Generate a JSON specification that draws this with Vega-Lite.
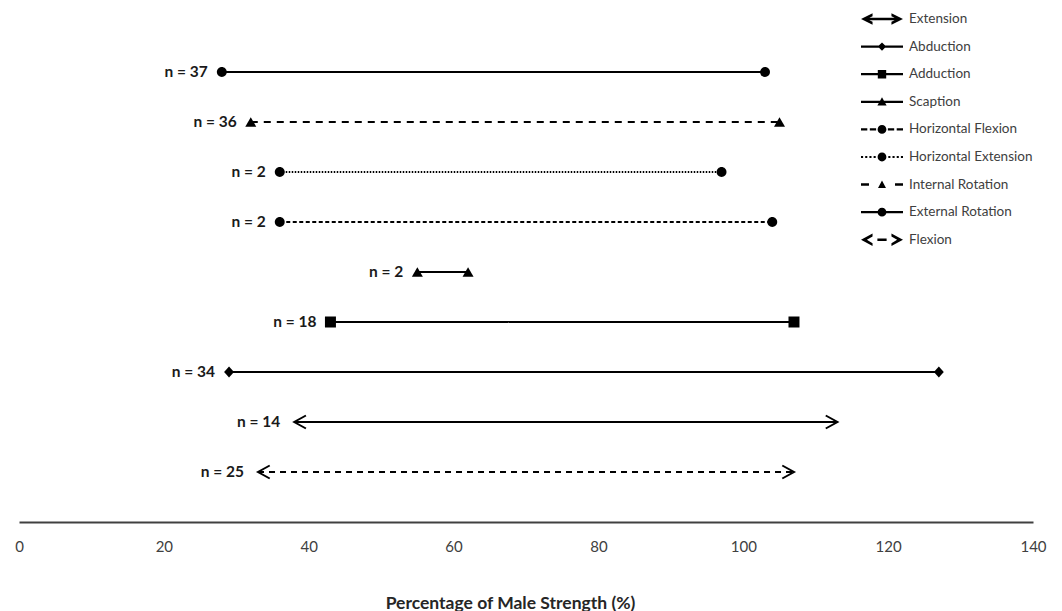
{
  "$schema": "https://vega.github.io/schema/vega-lite/v6.json",
  "width": 1014,
  "height": 500,
  "autosize": {"type": "none"},
  "padding": {"left": 19, "top": 22, "right": 29, "bottom": 89},
  "background": "white",
  "config": {"view": {"stroke": null}},
  "data": {
    "values": [
      {"movement": "External Rotation", "label": "n = 37", "lo": 28, "hi": 103},
      {"movement": "Internal Rotation", "label": "n = 36", "lo": 32, "hi": 105},
      {"movement": "Horizontal Extension", "label": "n = 2", "lo": 36, "hi": 97},
      {"movement": "Horizontal Flexion", "label": "n = 2", "lo": 36, "hi": 104},
      {"movement": "Scaption", "label": "n = 2", "lo": 55, "hi": 62},
      {"movement": "Adduction", "label": "n = 18", "lo": 43, "hi": 107},
      {"movement": "Abduction", "label": "n = 34", "lo": 29, "hi": 127},
      {"movement": "Extension", "label": "n = 14", "lo": 38, "hi": 113},
      {"movement": "Flexion", "label": "n = 25", "lo": 33, "hi": 107}
    ]
  },
  "resolve": {"scale": {"shape": "independent"}, "legend": {"shape": "independent"}},
  "layer": [
    {
      "mark": {"type": "rule", "color": "black", "strokeWidth": 2, "strokeCap": "butt"},
      "encoding": {
        "x": {
          "field": "lo", "type": "quantitative",
          "scale": {"domain": [0, 140], "nice": false, "zero": false},
          "axis": {
            "values": [0, 20, 40, 60, 80, 100, 120, 140],
            "domain": true, "domainColor": "#404040", "domainWidth": 2,
            "ticks": false, "tickSize": 0, "grid": false,
            "labelFlush": false,
            "labelFont": "Lato", "labelFontSize": 15, "labelColor": "#404040", "labelPadding": 17,
            "title": "Percentage of Male Strength (%)",
            "titleFont": "Lato", "titleFontSize": 17.5, "titleFontWeight": "bold", "titleColor": "#262626",
            "titlePadding": 40,
            "titleX": 491
          }
        },
        "x2": {"field": "hi"},
        "y": {
          "field": "movement", "type": "nominal",
          "scale": {
            "domain": ["External Rotation", "Internal Rotation", "Horizontal Extension", "Horizontal Flexion", "Scaption", "Adduction", "Abduction", "Extension", "Flexion"],
            "padding": 1
          },
          "axis": null
        },
        "strokeDash": {
          "field": "movement", "type": "nominal",
          "scale": {
            "domain": ["External Rotation", "Internal Rotation", "Horizontal Extension", "Horizontal Flexion", "Scaption", "Adduction", "Abduction", "Extension", "Flexion"],
            "range": [[1, 0], [7, 6], [1.5, 1.5], [4, 2.5], [1, 0], [1, 0], [1, 0], [1, 0], [6, 5]]
          },
          "legend": null
        }
      }
    },
    {
      "transform": [
        {"filter": {"not": {"field": "movement", "oneOf": ["Extension", "Flexion"]}}},
        {"fold": ["lo", "hi"], "as": ["end", "value"]}
      ],
      "mark": {"type": "point", "filled": true, "color": "black", "opacity": 1, "size": 121},
      "encoding": {
        "x": {"field": "value", "type": "quantitative"},
        "y": {"field": "movement", "type": "nominal"},
        "shape": {
          "field": "movement", "type": "nominal",
          "scale": {
            "domain": ["External Rotation", "Internal Rotation", "Horizontal Extension", "Horizontal Flexion", "Scaption", "Adduction", "Abduction"],
            "range": [
              "M-0.9,0A0.9,0.9,0,1,1,0.9,0A0.9,0.9,0,1,1,-0.9,0Z",
              "triangle-up",
              "M-0.9,0A0.9,0.9,0,1,1,0.9,0A0.9,0.9,0,1,1,-0.9,0Z",
              "M-0.9,0A0.9,0.9,0,1,1,0.9,0A0.9,0.9,0,1,1,-0.9,0Z",
              "triangle-up",
              "square",
              "M-0.9,0L0,-1L0.9,0L0,1Z"
            ]
          },
          "legend": null
        }
      }
    },
    {
      "transform": [
        {"filter": {"field": "movement", "oneOf": ["Extension", "Flexion"]}},
        {"fold": ["lo", "hi"], "as": ["end", "value"]}
      ],
      "mark": {"type": "point", "filled": false, "stroke": "black", "strokeWidth": 2, "opacity": 1, "size": 169, "strokeJoin": "miter"},
      "encoding": {
        "x": {"field": "value", "type": "quantitative"},
        "y": {"field": "movement", "type": "nominal"},
        "shape": {
          "field": "end", "type": "nominal",
          "scale": {"domain": ["lo", "hi"], "range": ["M1.8,-1L0,0L1.8,1", "M-1.8,-1L0,0L-1.8,1"]},
          "legend": null
        }
      }
    },
    {
      "mark": {"type": "text", "align": "right", "baseline": "middle", "dx": -14, "font": "Lato", "fontSize": 15.5, "fontWeight": "bold", "color": "#1a1a1a"},
      "encoding": {
        "x": {"field": "lo", "type": "quantitative"},
        "y": {"field": "movement", "type": "nominal"},
        "text": {"field": "label", "type": "nominal"}
      }
    },
    {
      "mark": {"type": "point", "filled": true, "color": "black", "opacity": 0},
      "encoding": {
        "x": {"field": "lo", "type": "quantitative"},
        "y": {"field": "movement", "type": "nominal"},
        "shape": {
          "field": "movement", "type": "nominal",
          "scale": {
            "domain": ["Extension", "Abduction", "Adduction", "Scaption", "Horizontal Flexion", "Horizontal Extension", "Internal Rotation", "External Rotation", "Flexion"],
            "range": [
              "M-1,0L-0.45,-0.27L-0.45,-0.136L-0.727,0L-0.45,0.136L-0.45,0.27ZM-0.8,-0.055H0.8V0.055H-0.8ZM0.45,-0.27L1,0L0.45,0.27L0.45,0.136L0.727,0L0.45,-0.136Z",
              "M-1,-0.055H1V0.055H-1ZM-0.2,0L0,-0.2L0.2,0L0,0.2Z",
              "M-1,-0.055H1V0.055H-1ZM-0.2,-0.2H0.2V0.2H-0.2Z",
              "M-1,-0.055H1V0.055H-1ZM0,-0.22L0.22,0.18L-0.22,0.18Z",
              "M-1,-0.055H-0.7V0.055H-1ZM-0.58,-0.055H-0.28V0.055H-0.58ZM0.28,-0.055H0.58V0.055H0.28ZM0.7,-0.055H1V0.055H0.7ZM-0.21,0A0.21,0.21,0,1,1,0.21,0A0.21,0.21,0,1,1,-0.21,0Z",
              "M-1,-0.05H-0.9V0.05H-1ZM-0.8,-0.05H-0.7V0.05H-0.8ZM-0.6,-0.05H-0.5V0.05H-0.6ZM-0.4,-0.05H-0.3V0.05H-0.4ZM0.3,-0.05H0.4V0.05H0.3ZM0.5,-0.05H0.6V0.05H0.5ZM0.7,-0.05H0.8V0.05H0.7ZM0.9,-0.05H1V0.05H0.9ZM-0.21,0A0.21,0.21,0,1,1,0.21,0A0.21,0.21,0,1,1,-0.21,0Z",
              "M-1,-0.06H-0.62V0.06H-1ZM0.62,-0.06H1V0.06H0.62ZM0,-0.19L0.19,0.16L-0.19,0.16Z",
              "M-1,-0.055H1V0.055H-1ZM-0.21,0A0.21,0.21,0,1,1,0.21,0A0.21,0.21,0,1,1,-0.21,0Z",
              "M-1,0L-0.45,-0.3L-0.45,-0.16L-0.72,0L-0.45,0.16L-0.45,0.3ZM-0.22,-0.06H0.22V0.06H-0.22ZM0.45,-0.3L1,0L0.45,0.3L0.45,0.16L0.72,0L0.45,-0.16Z"
            ]
          },
          "legend": {
            "title": null,
            "orient": "none",
            "legendX": 842,
            "legendY": -13,
            "padding": 0,
            "symbolSize": 1764,
            "symbolStrokeWidth": 0,
            "symbolOpacity": 1,
            "symbolFillColor": "black",
            "symbolOffset": 0,
            "clipHeight": 20,
            "rowPadding": 7.6,
            "labelOffset": 6,
            "labelFont": "Lato",
            "labelFontSize": 13.5,
            "labelColor": "#404040",
            "labelLimit": 200
          }
        }
      }
    }
  ]
}
